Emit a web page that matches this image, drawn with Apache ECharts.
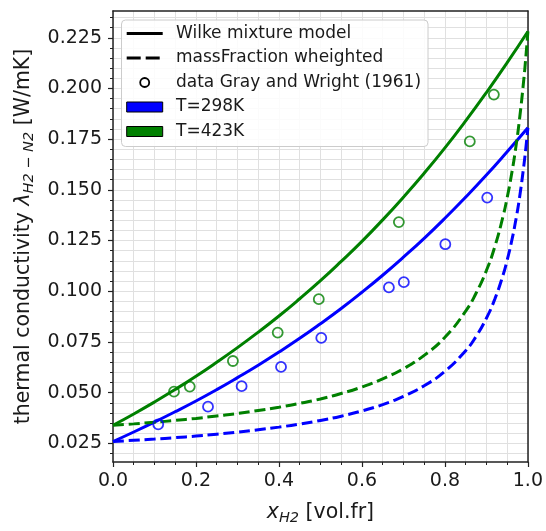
<!DOCTYPE html>
<html><head><meta charset="utf-8">
<script src="https://cdn.jsdelivr.net/npm/echarts@6/dist/echarts.min.js"></script>
<style>html,body{margin:0;padding:0;background:#fff}#c{width:546px;height:531px}</style>
</head><body><div id="c"></div>
<script>
// ---- data ----
const xModel = [0,0.05,0.1,0.15,0.2,0.25,0.3,0.35,0.4,0.45,0.5,0.55,0.6,0.65,0.7,0.75,0.8,0.85,0.9,0.95,1.0];
const wilke298 = [0.0259,0.0306,0.0355,0.0406,0.0459,0.0515,0.0574,0.0635,0.0700,0.0768,0.0840,0.0915,0.0995,0.1079,0.1168,0.1261,0.1360,0.1464,0.1573,0.1688,0.1806];
const wilke423 = [0.0339,0.0395,0.0454,0.0516,0.0581,0.0650,0.0722,0.0798,0.0878,0.0963,0.1052,0.1147,0.1246,0.1352,0.1464,0.1582,0.1707,0.1840,0.1980,0.2127,0.2281];
const xMass = [0,0.05,0.1,0.15,0.2,0.25,0.3,0.35,0.4,0.45,0.5,0.55,0.6,0.65,0.7,0.75,0.8,0.85,0.875,0.9,0.92,0.94,0.95,0.96,0.97,0.98,0.99,0.995,1.0];
const mass298 = [0.0259,0.0265,0.0271,0.0278,0.0286,0.0295,0.0305,0.0317,0.0330,0.0345,0.0363,0.0384,0.0410,0.0441,0.0482,0.0534,0.0605,0.0707,0.0777,0.0867,0.0960,0.1079,0.1153,0.1239,0.1341,0.1464,0.1616,0.1705,0.1806];
const mass423 = [0.0339,0.0346,0.0354,0.0363,0.0373,0.0385,0.0397,0.0412,0.0428,0.0447,0.0469,0.0496,0.0528,0.0568,0.0618,0.0684,0.0773,0.0902,0.0990,0.1102,0.1218,0.1368,0.1461,0.1569,0.1697,0.1852,0.2042,0.2154,0.2281];
const expX298 = [0.109,0.229,0.310,0.405,0.502,0.665,0.701,0.801,0.902];
const exp298  = [0.0344,0.0431,0.0532,0.0627,0.0770,0.1019,0.1045,0.1232,0.1462];
const expX423 = [0.147,0.185,0.289,0.397,0.496,0.689,0.860,0.918];
const exp423  = [0.0505,0.0530,0.0656,0.0796,0.0961,0.1341,0.1739,0.1970];
const yMajorTicks = [0.025,0.05,0.075,0.1,0.125,0.15,0.175,0.2,0.225];
const yMinorTicks = [0.02,0.03,0.035,0.04,0.045,0.055,0.06,0.065,0.07,0.08,0.085,0.09,0.095,0.105,0.11,0.115,0.12,0.13,0.135,0.14,0.145,0.155,0.16,0.165,0.17,0.18,0.185,0.19,0.195,0.205,0.21,0.215,0.22,0.23,0.235];
const legendLabels = ['Wilke mixture model','massFraction wheighted','data Gray and Wright (1961)','T=298K','T=423K'];
const BLUE = '#0000ff', GREEN = '#008000';
const FONT = 'DejaVu Sans';
const Y_MIN = 0.0158, Y_MAX = 0.2382;

const zip = (xs, ys) => xs.map((x, i) => [x, ys[i]]);
const gridColor = '#e0e0e0';
const LW = 3, DASH = [11, 4.8];

const chart = echarts.init(document.getElementById('c'), null, {renderer: 'canvas'});

// legend (drawn with graphic elements, above everything)
const L = {x: 121.5, y: 20, w: 306.5, h: 126.5, rows: [33.5, 58, 82.5, 107, 131.5], hx: 126.7, hw: 36, tx: 176};
const Z = 100;
const legendEls = [
  {type: 'rect', z: Z, shape: {x: L.x, y: L.y, width: L.w, height: L.h, r: 4}, style: {fill: 'rgba(255,255,255,0.85)', stroke: '#cccccc', lineWidth: 1}},
  {type: 'line', z: Z + 1, shape: {x1: L.hx, y1: L.rows[0], x2: L.hx + L.hw, y2: L.rows[0]}, style: {stroke: '#000', lineWidth: LW}},
  {type: 'line', z: Z + 1, shape: {x1: L.hx, y1: L.rows[1], x2: L.hx + L.hw, y2: L.rows[1]}, style: {stroke: '#000', lineWidth: LW, lineDash: [14, 5]}},
  {type: 'circle', z: Z + 1, shape: {cx: L.hx + L.hw / 2, cy: L.rows[2], r: 4.5}, style: {fill: 'none', stroke: '#000', lineWidth: 1.8}},
  {type: 'rect', z: Z + 1, shape: {x: L.hx, y: L.rows[3] - 5, width: L.hw, height: 10}, style: {fill: BLUE, stroke: '#000', lineWidth: 1}},
  {type: 'rect', z: Z + 1, shape: {x: L.hx, y: L.rows[4] - 5, width: L.hw, height: 10}, style: {fill: GREEN, stroke: '#000', lineWidth: 1}}
];
legendLabels.forEach((t, i) => legendEls.push({type: 'text', z: Z + 1, x: L.tx, y: L.rows[i], style: {text: t, fill: '#1a1a1a', font: '17px "DejaVu Sans"', verticalAlign: 'middle', align: 'left'}}));

const axisLabelStyle = {color: '#1a1a1a', fontSize: 19, fontFamily: FONT};
const richName = {
  i: {fontSize: 20.5, fontStyle: 'italic', fontFamily: FONT, color: '#1a1a1a', lineHeight: 26},
  s: {fontSize: 14.5, fontStyle: 'italic', fontFamily: FONT, color: '#1a1a1a', verticalAlign: 'bottom', lineHeight: 14},
  t: {fontSize: 20.5, fontFamily: FONT, color: '#1a1a1a', lineHeight: 26}
};

const option = {
  animation: false,
  backgroundColor: '#fff',
  grid: {left: 113, right: 15, top: 11, bottom: 60, containLabel: false},
  xAxis: [
    {type: 'value', min: 0, max: 1, interval: 0.2, position: 'bottom',
     name: '{i|x}{s|H2}{t| [vol.fr]}', nameLocation: 'middle', nameGap: 38,
     nameTextStyle: {rich: richName},
     axisLine: {show: true, onZero: false, lineStyle: {color: '#222', width: 1.5}},
     axisTick: {show: true, length: 5, lineStyle: {color: '#222', width: 1.2}},
     minorTick: {show: true, splitNumber: 4, length: 3, lineStyle: {color: '#222', width: 1}},
     axisLabel: Object.assign({margin: 10, formatter: v => v.toFixed(1)}, axisLabelStyle),
     splitLine: {show: true, lineStyle: {color: gridColor, width: 1}},
     minorSplitLine: {show: true, lineStyle: {color: gridColor, width: 1}}},
    {type: 'value', min: 0, max: 1, position: 'top',
     axisLine: {show: true, onZero: false, lineStyle: {color: '#222', width: 1.5}},
     axisTick: {show: false}, axisLabel: {show: false}, splitLine: {show: false}}
  ],
  yAxis: [
    {type: 'value', min: Y_MIN, max: Y_MAX, position: 'left',
     name: '{t|thermal conductivity }{i|λ}{s|H2 − N2}{t| [W/mK]}', nameLocation: 'middle', nameGap: 72,
     nameTextStyle: {rich: richName},
     axisLine: {show: true, onZero: false, lineStyle: {color: '#222', width: 1.5}},
     axisTick: {show: true, length: 5, customValues: yMajorTicks, lineStyle: {color: '#222', width: 1.2}},
     axisLabel: Object.assign({margin: 11, customValues: yMajorTicks, formatter: v => v.toFixed(3)}, axisLabelStyle),
     splitLine: {show: true, lineStyle: {color: gridColor, width: 1}}},
    {type: 'value', min: Y_MIN, max: Y_MAX, position: 'left', offset: 0,
     axisLine: {show: false},
     axisTick: {show: true, length: 3, customValues: yMinorTicks, lineStyle: {color: '#222', width: 1}},
     axisLabel: {show: false, customValues: yMinorTicks},
     splitLine: {show: true, lineStyle: {color: gridColor, width: 1}}},
    {type: 'value', min: Y_MIN, max: Y_MAX, position: 'right',
     axisLine: {show: true, onZero: false, lineStyle: {color: '#222', width: 1.5}},
     axisTick: {show: false}, axisLabel: {show: false}, splitLine: {show: false}}
  ],
  series: [
    {type: 'line', name: 'Wilke 298K', data: zip(xModel, wilke298), showSymbol: false, symbol: 'none', smooth: true, lineStyle: {color: BLUE, width: LW}, z: 3},
    {type: 'line', name: 'mass 298K', data: zip(xMass, mass298), showSymbol: false, symbol: 'none', smooth: true, lineStyle: {color: BLUE, width: LW, type: DASH}, z: 3},
    {type: 'line', name: 'Wilke 423K', data: zip(xModel, wilke423), showSymbol: false, symbol: 'none', smooth: true, lineStyle: {color: GREEN, width: LW}, z: 3},
    {type: 'line', name: 'mass 423K', data: zip(xMass, mass423), showSymbol: false, symbol: 'none', smooth: true, lineStyle: {color: GREEN, width: LW, type: DASH}, z: 3},
    {type: 'scatter', name: 'data 298K', data: zip(expX298, exp298), symbol: 'circle', symbolSize: 10, itemStyle: {color: 'rgba(0,0,0,0)', borderColor: BLUE, borderWidth: 1.8}, z: 4},
    {type: 'scatter', name: 'data 423K', data: zip(expX423, exp423), symbol: 'circle', symbolSize: 10, itemStyle: {color: 'rgba(0,0,0,0)', borderColor: GREEN, borderWidth: 1.8}, z: 4}
  ],
  graphic: legendEls
};
chart.setOption(option);
</script>
</body></html>
